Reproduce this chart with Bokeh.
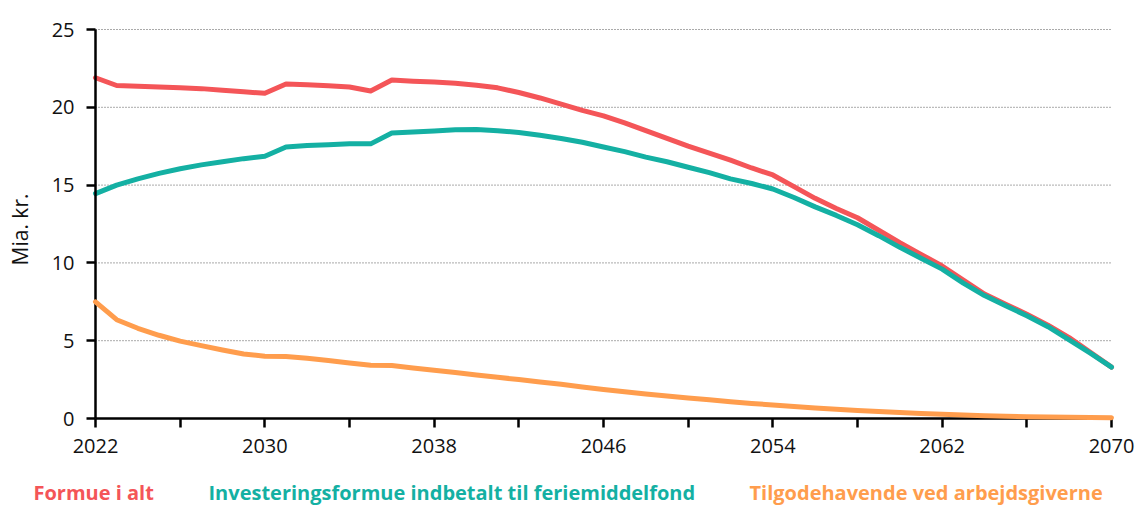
import math
from bokeh.plotting import figure
from bokeh.models import Range1d, FixedTicker, LinearAxis, ColumnDataSource
from bokeh.core.properties import value
from bokeh.embed import file_html
from bokeh.resources import INLINE

years = list(range(2022, 2071))

formue_i_alt = [21.9, 21.4, 21.35, 21.3, 21.25, 21.2, 21.1, 21.0, 20.9,
                21.5, 21.45, 21.38, 21.3, 21.05, 21.75, 21.68, 21.62, 21.55, 21.42,
                21.25, 20.95, 20.6, 20.2, 19.8, 19.45, 19.0, 18.5, 18.0, 17.5,
                17.05, 16.6, 16.1, 15.65, 14.9, 14.15, 13.5, 12.9, 12.1, 11.3,
                10.55, 9.8, 8.9, 8.0, 7.35, 6.7, 6.0, 5.2, 4.25, 3.3]

investeringsformue = [14.45, 15.0, 15.4, 15.75, 16.05, 16.3, 16.5, 16.7, 16.85,
                      17.45, 17.55, 17.6, 17.65, 17.65, 18.35, 18.42, 18.48, 18.55, 18.57,
                      18.5, 18.38, 18.2, 18.0, 17.75, 17.45, 17.15, 16.8, 16.5, 16.15,
                      15.8, 15.4, 15.1, 14.75, 14.2, 13.6, 13.05, 12.45, 11.75, 11.0,
                      10.3, 9.6, 8.7, 7.9, 7.25, 6.6, 5.9, 5.05, 4.2, 3.3]

tilgodehavende = [7.5, 6.35, 5.8, 5.35, 4.97, 4.68, 4.4, 4.15, 4.0,
                  3.98, 3.87, 3.73, 3.57, 3.42, 3.4, 3.25, 3.1, 2.95, 2.8,
                  2.65, 2.5, 2.35, 2.2, 2.02, 1.87, 1.72, 1.58, 1.45, 1.32,
                  1.2, 1.08, 0.97, 0.87, 0.77, 0.68, 0.6, 0.52, 0.45, 0.38,
                  0.32, 0.27, 0.22, 0.18, 0.15, 0.12, 0.1, 0.08, 0.06, 0.05]

series_names = ["Formue i alt",
                "Investeringsformue indbetalt til feriemiddelfond",
                "Tilgodehavende ved arbejdsgiverne"]
series_colors = ["#F45558", "#14B0A3", "#FF9D4D"]

x_ticks = list(range(2022, 2071, 4))
x_tick_labels = {t: (str(t) if (t - 2022) % 8 == 0 else "") for t in x_ticks}
y_ticks = [0, 5, 10, 15, 20, 25]
y_axis_title = "Mia. kr."

# ---- layout (pixels) ----
W, H = 1137, 507
FL, FR, FT, FB = 95, 1111, 29, 418        # plot area edges on the canvas
x_lo, x_hi = years[0], years[-1]
y_lo, y_hi = y_ticks[0], y_ticks[-1]
pxu = (FR - FL) / (x_hi - x_lo)
pyu = (FB - FT) / (y_hi - y_lo)


def px_to_x(px):
    return x_lo + (px - FL) / pxu


def py_to_y(py):
    return y_lo + (FB - py) / pyu


p = figure(width=W, height=H, output_backend="svg", toolbar_location=None,
           x_range=Range1d(px_to_x(0), px_to_x(W)),
           y_range=Range1d(py_to_y(H), py_to_y(0)),
           x_axis_location=None, y_axis_location=None,
           min_border=0, min_border_left=0, min_border_right=0,
           min_border_top=0, min_border_bottom=0)
p.outline_line_color = None
p.background_fill_color = "white"
p.border_fill_color = "white"
p.grid.visible = False

# dotted horizontal grid lines over the plot area
p.segment(x0=[x_lo] * len(y_ticks), x1=[x_hi] * len(y_ticks), y0=y_ticks, y1=y_ticks,
          line_color="#555555", line_dash="1 2", line_width=1)

tick_font = "Open Sans"
xaxis = LinearAxis(fixed_location=y_lo, bounds=(x_lo, x_hi),
                   ticker=FixedTicker(ticks=x_ticks))
yaxis = LinearAxis(fixed_location=x_lo, bounds=(y_lo, y_hi),
                   ticker=FixedTicker(ticks=y_ticks))
for ax in (xaxis, yaxis):
    ax.axis_line_color = "black"
    ax.axis_line_width = 2.5
    ax.major_tick_line_color = "black"
    ax.major_tick_line_width = 2.5
    ax.major_tick_in = 0
    ax.major_tick_out = 9
    ax.minor_tick_line_color = None
    ax.major_label_text_font = tick_font
    ax.major_label_text_font_size = "20px"
    ax.major_label_text_color = "#111111"
xaxis.major_label_overrides = x_tick_labels
xaxis.major_label_standoff = 11
yaxis.major_label_standoff = 12
p.add_layout(xaxis, "below")
p.add_layout(yaxis, "left")

# axis title
p.text(x=[px_to_x(19)], y=[py_to_y(229)], text=[y_axis_title], angle=math.pi / 2,
       text_font=value(tick_font), text_font_size="21px", text_color="#111111",
       text_align="center", text_baseline="middle")

p.line(years, formue_i_alt, line_color=series_colors[0], line_width=5, line_join="round",
       line_cap="round")
p.line(years, investeringsformue, line_color=series_colors[1], line_width=5,
       line_join="round", line_cap="round")
p.line(years, tilgodehavende, line_color=series_colors[2], line_width=5, line_join="round",
       line_cap="round", level="overlay")

# legend (coloured text row under the chart)
leg_px = [33, 208, 749]
leg_src = ColumnDataSource(dict(x=[px_to_x(v) for v in leg_px],
                                y=[py_to_y(492)] * 3,
                                text=series_names, color=series_colors))
p.text(x="x", y="y", text="text", text_color="color", source=leg_src,
       text_font=value("Open Sans"), text_font_style="bold", text_font_size="20px",
       text_baseline="alphabetic", text_align="left")

open("out.html", "w").write(file_html(p, INLINE))
